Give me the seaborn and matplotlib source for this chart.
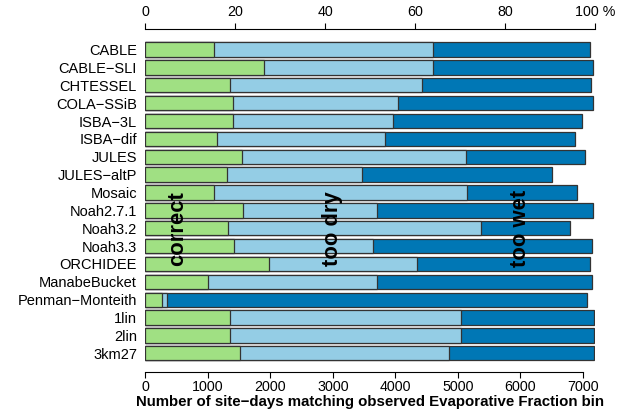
import numpy as np
import pandas as pd
import matplotlib
matplotlib.use("Agg")
import matplotlib.pyplot as plt
import seaborn as sns

# Modelle und Anzahl Site-Days je Kategorie
models = ["CABLE", "CABLE−SLI", "CHTESSEL", "COLA−SSiB", "ISBA−3L", "ISBA−dif",
          "JULES", "JULES−altP", "Mosaic", "Noah2.7.1", "Noah3.2", "Noah3.3",
          "ORCHIDEE", "ManabeBucket", "Penman−Monteith", "1lin", "2lin", "3km27"]
correct = [1100, 1900, 1350, 1410, 1410, 1140, 1540, 1300, 1100, 1560, 1330, 1420,
           1980, 1000, 270, 1360, 1360, 1510]
too_dry = [3500, 2710, 3080, 2630, 2560, 2700, 3590, 2170, 4050, 2140, 4040, 2230,
           2370, 2700, 80, 3690, 3690, 3350]
too_wet = [2520, 2550, 2700, 3120, 3020, 3040, 1900, 3040, 1750, 3470, 1430, 3490,
           2760, 3440, 6710, 2130, 2130, 2320]
pct_ticks = [0, 20, 40, 60, 80, 100]
pct_labels = ["0", "20", "40", "60", "80", "100 %"]
total_days = 7200

col_correct = "#a0e083"
col_dry = "#94cde5"
col_wet = "#0077b5"


def main():
    df = pd.DataFrame({"model": models, "correct": correct,
                       "too_dry": too_dry, "too_wet": too_wet})
    df["cum1"] = df["correct"]
    df["cum2"] = df["correct"] + df["too_dry"]
    df["cum3"] = df["cum2"] + df["too_wet"]

    sns.set_theme(style="ticks")
    plt.rcParams["font.family"] = ["Liberation Sans", "DejaVu Sans"]
    plt.rcParams.update({"text.color": "black", "axes.labelcolor": "black",
                         "xtick.color": "black", "ytick.color": "black"})

    fig = plt.figure(figsize=(6.25, 4.11), dpi=100)
    ax = fig.add_axes([0.2325, 0.0956, 0.72, 0.8338])

    # gestapelte Balken: von hinten nach vorne zeichnen
    for col, c in [("cum3", col_wet), ("cum2", col_dry), ("cum1", col_correct)]:
        sns.barplot(data=df, x=col, y="model", orient="h", color=c,
                    saturation=1, width=0.8, edgecolor="#333333",
                    linewidth=0.9, ax=ax)

    ax.set_xlim(0, total_days)
    ax.set_ylim(18.03, -1.15)
    ax.set_ylabel("")
    ax.set_xlabel("Number of site−days matching observed Evaporative Fraction bin",
                  fontsize=10.8, fontweight="bold", labelpad=1)
    ax.set_xticks(range(0, 8000, 1000))
    ax.tick_params(axis="x", labelsize=10.3, length=4, width=0.8, pad=2,
                   color="black", labelcolor="black")
    ax.tick_params(axis="y", labelsize=10.5, length=0, pad=6,
                   labelcolor="black")
    for s in ["left", "right", "top"]:
        ax.spines[s].set_visible(False)
    ax.spines["bottom"].set_bounds(0, 7000)
    ax.spines["bottom"].set_color("black")
    ax.spines["bottom"].set_linewidth(0.8)

    # obere Achse in Prozent
    ax2 = ax.twiny()
    ax2.set_xlim(0, 100 * ax.get_xlim()[1] / total_days)
    ax2.set_xticks(pct_ticks)
    ax2.set_xticklabels(pct_labels)
    ax2.tick_params(axis="x", labelsize=10.3, length=4, width=0.8, pad=3,
                    color="black", labelcolor="black")
    for s in ["left", "right", "bottom"]:
        ax2.spines[s].set_visible(False)
    ax2.spines["top"].set_bounds(0, 100)
    ax2.spines["top"].set_color("black")
    ax2.spines["top"].set_linewidth(0.8)

    # Beschriftungen der Kategorien
    for xpos, txt in [(510, "correct"), (3000, "too dry"), (6000, "too wet")]:
        ax.text(xpos, 10, txt, rotation=90, ha="center", va="center",
                fontsize=15.8, fontweight="bold", color="black")

    fig.savefig("out.png", dpi=100)
    plt.close(fig)


if __name__ == "__main__":
    main()
